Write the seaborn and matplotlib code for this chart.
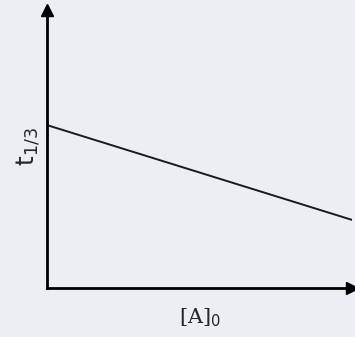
import matplotlib
matplotlib.use('Agg')
import matplotlib.pyplot as plt
import seaborn as sns

# values (axes scaled 0..1)
conc = [0.0, 1.0]
half_life = [0.586, 0.245]

sns.set_style('white')

fig = plt.figure(figsize=(3.55, 3.37), dpi=100)
fig.patch.set_facecolor('#eceef3')
ax = fig.add_axes([47 / 355, 49 / 337, 305 / 355, 278 / 337])
ax.set_facecolor('none')

sns.lineplot(x=conc, y=half_life, ax=ax, color='#1a1a1a', linewidth=1.4)

ax.set_xlim(0, 1)
ax.set_ylim(0, 1)
ax.set_xticks([])
ax.set_yticks([])

# keep only the left and bottom spines, with arrow heads
for side in ['top', 'right']:
    ax.spines[side].set_visible(False)
for side in ['left', 'bottom']:
    ax.spines[side].set_color('black')
    ax.spines[side].set_linewidth(2)
ax.plot(1, 0, '>k', markersize=8, transform=ax.transAxes, clip_on=False)
ax.plot(0, 1, '^k', markersize=8, transform=ax.transAxes, clip_on=False)

ax.set_ylabel('$\\mathregular{t_{1/3}}$', fontsize=18)
ax.yaxis.set_label_coords(-0.015, 0.51)
ax.set_xlabel('[A]$_0$', fontsize=15, family='DejaVu Serif')
ax.xaxis.set_label_coords(0.5, -0.065)

fig.savefig('out.png', dpi=100, facecolor=fig.get_facecolor())
